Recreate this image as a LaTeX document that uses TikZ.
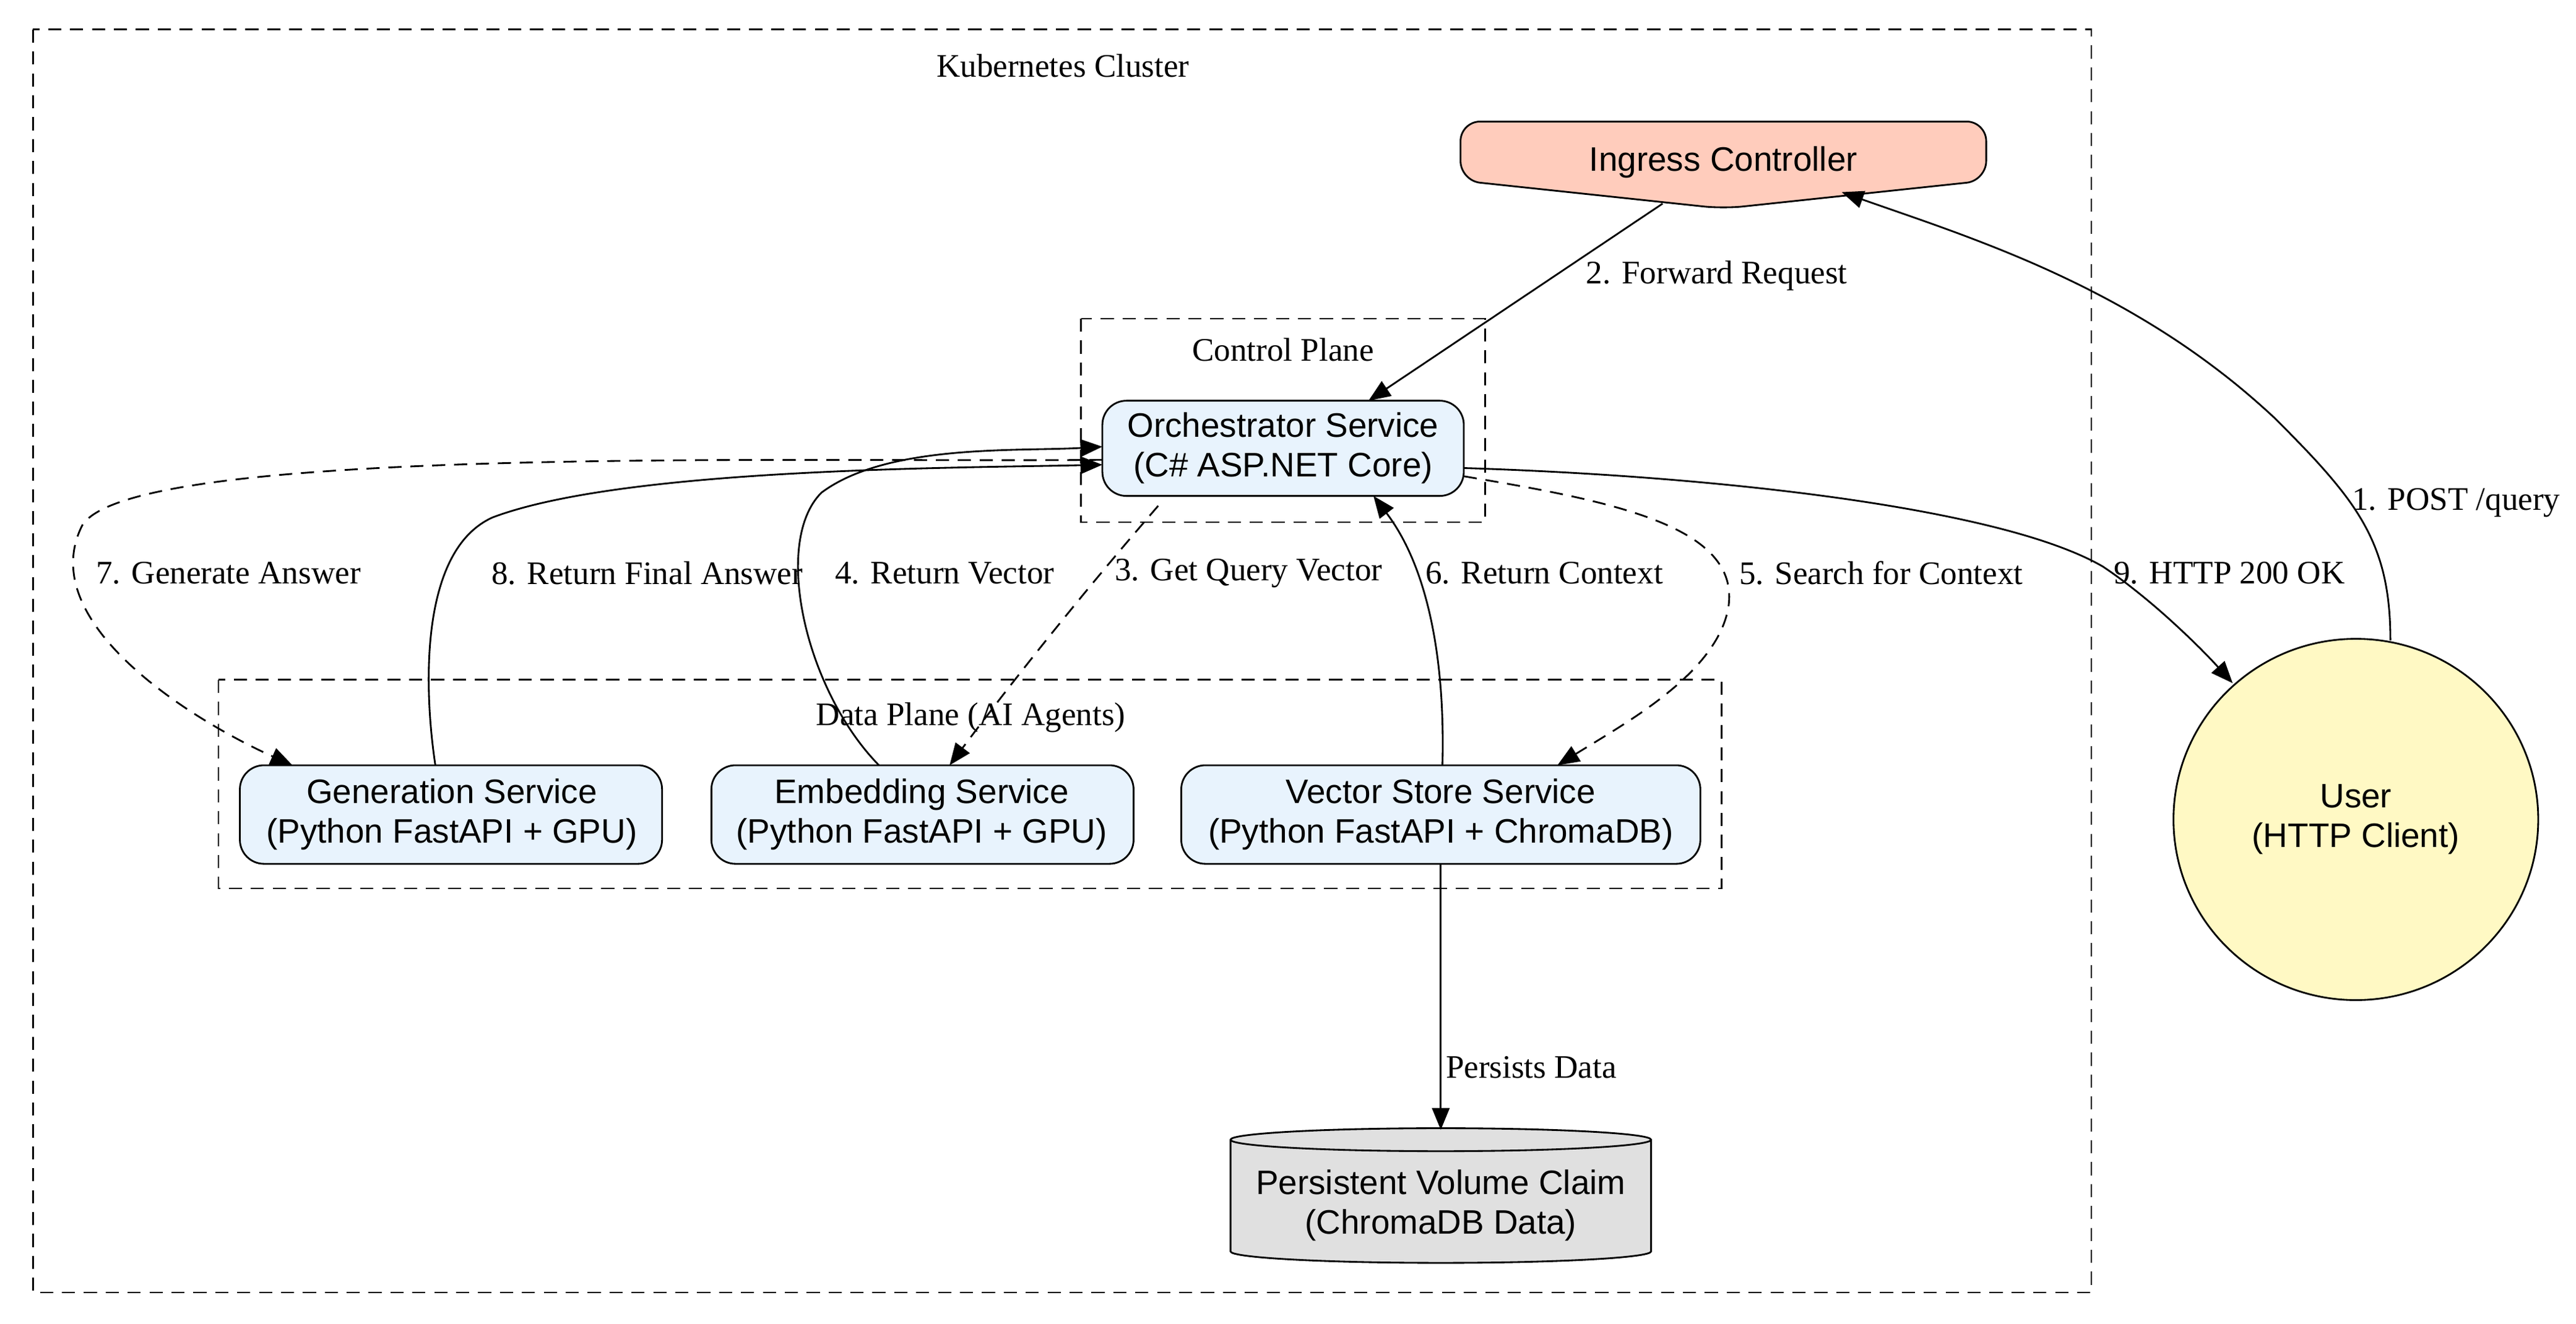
\documentclass[tikz,border=0pt]{standalone}
\usepackage{fontspec}
\setmainfont{Liberation Serif}
\setsansfont{Liberation Sans}
\usetikzlibrary{arrows.meta,shapes.geometric}
\begin{document}
\begin{tikzpicture}[x=0.75pt,y=-0.75pt,
  box/.style={draw,rounded corners=11pt,fill={rgb,255:red,232;green,243;blue,253},line width=0.8pt},
  nt/.style={font=\sffamily\fontsize{15.5}{18}\selectfont,align=center},
  lab/.style={font=\fontsize{15}{18}\selectfont},
  e/.style={-{Triangle[length=10pt,width=8pt]},line width=0.8pt},
  d/.style={e,dash pattern=on 6pt off 4pt},
  clu/.style={draw,dash pattern=on 6pt off 4pt,line width=0.8pt}]
\useasboundingbox (0,0) rectangle (1568,806);
\draw[clu] (20,18) rectangle (1273,787);
\node[lab] (kc) at (647,40) {Kubernetes Cluster};
\draw[clu] (658,194) rectangle (904,318);
\node[lab] (cp) at (781,213) {Control Plane};
\draw[clu] (133,414) rectangle (1048,541);
\node[lab] (dp) at (591,437) {Data Plane (AI Agents)};
% ingress
\draw[fill={rgb,255:red,255;green,204;blue,188},line width=0.8pt,rounded corners=9pt] (889,74) -- (1209,74) -- (1209,110) -- (1049,127) -- (889,110) -- cycle;
\node[nt] (ing) at (1049,99) {Ingress Controller};
\coordinate (ingb) at (1012,124);
\coordinate (ingr) at (1121,117);
\draw[box] (671,244) rectangle (891,302);
\node[nt] (orch) at (781,273) {Orchestrator Service\\(C\# ASP.NET Core)};
\draw[box] (146,466) rectangle (403,526);
\node[nt] (gen) at (275,496) {Generation Service\\(Python FastAPI + GPU)};
\draw[box] (433,466) rectangle (690,526);
\node[nt] (emb) at (561,496) {Embedding Service\\(Python FastAPI + GPU)};
\draw[box] (719,466) rectangle (1035,526);
\node[nt] (vec) at (877,496) {Vector Store Service\\(Python FastAPI + ChromaDB)};
% pvc cylinder
\draw[fill={rgb,255:red,224;green,224;blue,224},line width=0.8pt] (749,694) -- (749,762) arc[start angle=180,end angle=0,x radius=128,y radius=7] -- (1005,694) arc[start angle=0,end angle=-180,x radius=128,y radius=7] -- cycle;
\draw[line width=0.8pt] (749,694) arc[start angle=180,end angle=0,x radius=128,y radius=7];
\node[nt] (pvc) at (877,734) {Persistent Volume Claim\\(ChromaDB Data)};
% user
\draw[fill={rgb,255:red,255;green,249;blue,196},line width=0.8pt] (1434,499) ellipse[x radius=111,y radius=110];
\node[nt] (usr) at (1434,499) {User\\(HTTP Client)};
\coordinate (usrt) at (1455,390);
\coordinate (usrl) at (1359,416);
% edges
\draw[e] (usrt) .. controls (1455,330) and (1435,305) .. (1385,255) .. controls (1300,175) and (1200,145) .. (ingr);
\node[lab] at (1495,306) {1. POST /query};
\draw[e] (ingb) -- (833,244);
\node[lab] at (1045,168) {2. Forward Request};
\draw[d] (705,308) .. controls (660,360) and (620,410) .. (578,466);
\node[lab] at (760,349) {3. Get Query Vector};
\draw[e] (535,466) .. controls (490,420) and (470,330) .. (500,300) .. controls (540,270) and (620,275) .. (671,272);
\node[lab] at (575,349) {4. Return Vector};
\draw[d] (891,290) .. controls (980,305) and (1060,320) .. (1052,370) .. controls (1045,410) and (990,440) .. (948,466);
\node[lab] at (1145,349) {5. Search for Context};
\draw[e] (878,466) .. controls (880,390) and (865,340) .. (836,302);
\node[lab] at (940,349) {6. Return Context};
\draw[d] (671,280) .. controls (500,282) and (80,270) .. (50,320) .. controls (20,380) and (120,440) .. (178,466);
\node[lab] at (139,349) {7. Generate Answer};
\draw[e] (265,466) .. controls (258,420) and (255,335) .. (300,315) .. controls (380,285) and (580,285) .. (671,283);
\node[lab] at (394,349) {8. Return Final Answer};
\draw[e] (891,285) .. controls (1050,290) and (1220,310) .. (1280,345) .. controls (1310,365) and (1340,395) .. (usrl);
\node[lab] at (1357,349) {9. HTTP 200 OK};
\draw[e] (877,526) -- (877,688);
\node[lab] at (932,650) {Persists Data};
\end{tikzpicture}
\end{document}
